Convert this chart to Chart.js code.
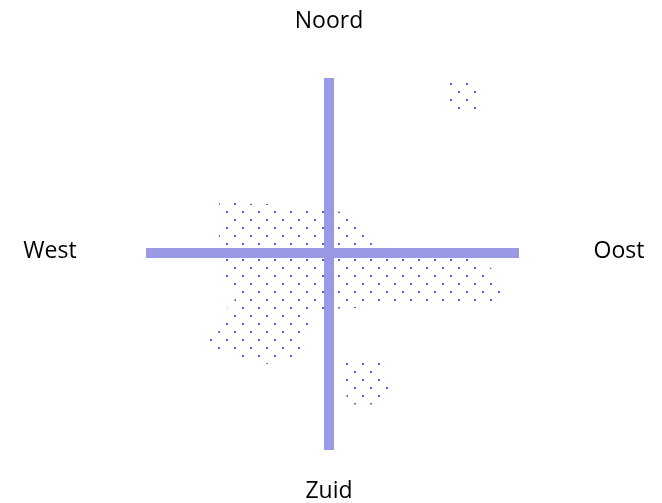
<!DOCTYPE html>
<html>
<head>
<meta charset="utf-8">
<script src="https://cdn.jsdelivr.net/npm/chart.js@4"></script>
<style>
  html, body { margin: 0; padding: 0; background: #ffffff; }
  #c { display: block; }
</style>
</head>
<body>
<canvas id="c" width="662" height="503"></canvas>
<script>
// Compass labels
const directionNames = ['Noord', 'Oost', 'Zuid', 'West'];
const directionX = [0, 29.0, 0, -27.9];
const directionY = [22.5, -0.5, -24.5, -0.5];

// Axis cross
const axisHorizontal = [[-18.3, 0], [19.0, 0]];
const axisVertical = [[0, 17.5], [0, -19.7]];

// Dotted areas (outline vertices)
const areaMain = [
  [-11.0, 5.0], [-10.7, 5.05], [-8.5, 5.05], [-7.7, 4.9], [-5.7, 4.9], [1.3, 4.1],
  [4.9, 0.3], [5.1, -0.3], [14.1, -0.3], [14.8, -0.8], [16.2, -1.5], [16.9, -2.3],
  [17.2, -3.1], [17.4, -3.9], [17.1, -4.5], [16.5, -4.9], [4.3, -5.2], [2.9, -5.5],
  [-0.4, -5.6], [-2.0, -6.1], [-2.0, -6.5], [-1.3, -7.0], [-1.3, -7.3], [-2.1, -7.8],
  [-2.9, -8.6], [-2.3, -9.3], [-3.1, -10.1], [-3.9, -10.5], [-5.9, -11.2], [-6.7, -10.9],
  [-9.1, -10.5], [-10.9, -9.7], [-12.1, -8.9], [-12.1, -8.5], [-11.0, -7.8], [-10.7, -7.0],
  [-10.0, -6.3], [-10.2, -5.6], [-9.5, -4.8], [-9.1, -4.0], [-10.0, -3.2], [-10.8, -2.4],
  [-10.0, -1.6], [-10.8, -0.8], [-10.8, 0.3], [-11.0, 1.7], [-10.8, 3.3]
];
const areaSouth = [
  [1.4, -10.9], [5.2, -10.9], [5.6, -11.9], [6.1, -13.3], [5.9, -14.1],
  [4.9, -15.0], [4.3, -15.15], [2.3, -15.15], [1.8, -14.5], [1.5, -13.2]
];
const areaNorthEast = [
  [12.0, 17.1], [14.1, 17.2], [14.9, 16.3], [14.9, 14.3], [12.7, 14.3], [12.0, 15.3]
];

const axisColor = '#9999E6';
const dotColor = '#4472C4';

function toPoints(arr, close) {
  const pts = arr.map(p => ({ x: p[0], y: p[1] }));
  if (close) pts.push({ x: arr[0][0], y: arr[0][1] });
  return pts;
}

// dotted pattern tile
const tile = document.createElement('canvas');
tile.width = 16; tile.height = 16;
const tctx = tile.getContext('2d');
tctx.fillStyle = dotColor;
tctx.fillRect(2, 3, 2, 2);
tctx.fillRect(10, 11, 2, 2);
const dotPattern = tctx.createPattern(tile, 'repeat');

function areaDataset(arr) {
  return {
    data: toPoints(arr, true),
    showLine: true,
    fill: 'shape',
    backgroundColor: dotPattern,
    borderWidth: 0,
    borderColor: 'rgba(0,0,0,0)',
    pointRadius: 0,
    tension: 0,
    order: 2
  };
}
function axisDataset(arr) {
  return {
    data: toPoints(arr, false),
    showLine: true,
    fill: false,
    borderColor: axisColor,
    borderWidth: 10,
    borderCapStyle: 'butt',
    pointRadius: 0,
    tension: 0,
    order: 1
  };
}

const labelPlugin = {
  id: 'compassLabels',
  afterDraw(chart) {
    const ctx = chart.ctx;
    const xs = chart.scales.x, ys = chart.scales.y;
    ctx.save();
    ctx.fillStyle = '#000000';
    ctx.font = '23px "Open Sans", sans-serif';
    ctx.textAlign = 'center';
    ctx.textBaseline = 'alphabetic';
    directionNames.forEach((name, i) => {
      ctx.fillText(name, xs.getPixelForValue(directionX[i]), ys.getPixelForValue(directionY[i]));
    });
    ctx.restore();
  }
};

new Chart(document.getElementById('c'), {
  type: 'scatter',
  data: {
    datasets: [
      areaDataset(areaMain),
      areaDataset(areaSouth),
      areaDataset(areaNorthEast),
      axisDataset(axisHorizontal),
      axisDataset(axisVertical)
    ]
  },
  options: {
    responsive: false,
    animation: false,
    events: [],
    layout: { padding: { left: 129, right: 133, top: 53, bottom: 50 } },
    scales: {
      x: { type: 'linear', min: -20, max: 20, display: false },
      y: { type: 'linear', min: -20, max: 20, display: false }
    },
    plugins: {
      legend: { display: false },
      tooltip: { enabled: false }
    }
  },
  plugins: [labelPlugin]
});
</script>
</body>
</html>
